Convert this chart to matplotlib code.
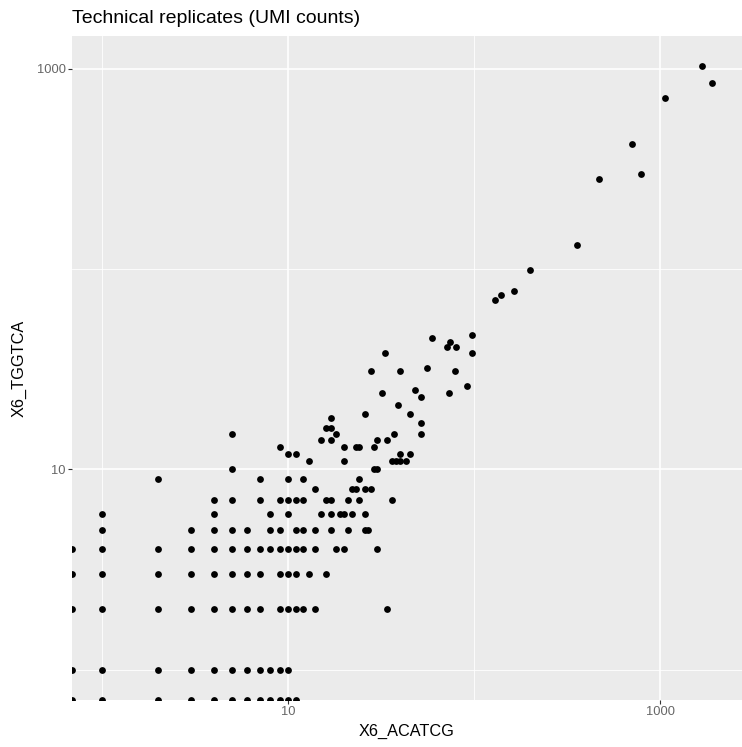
import numpy as np
import matplotlib
matplotlib.use("Agg")
import matplotlib.pyplot as plt
from matplotlib.ticker import FixedLocator, NullFormatter

plt.rcParams['font.family'] = ['Liberation Sans', 'DejaVu Sans']

# UMI counts per gene, two technical replicates (0 = not detected)
acatcg = [0, 1, 2, 3, 4, 5, 6, 7, 8, 9, 10, 11,
          0, 1, 2, 3, 4, 5, 6, 7, 8, 9, 10,
          0, 1, 2, 3, 4, 5, 6, 7, 9, 10, 11, 12, 14, 34,
          0, 1, 2, 3, 4, 5, 6, 7, 9, 10, 11, 13, 16,
          0, 1, 2, 3, 4, 5, 6, 7, 8, 9, 10, 11, 12, 14, 18, 20, 30,
          1, 3, 4, 5, 6, 8, 9, 11, 12, 14, 17, 21, 26, 27,
          1, 4, 8, 10, 15, 17, 19, 20, 22, 26,
          4, 5, 7, 9, 10, 11, 12, 16, 17, 21, 24, 36,
          14, 22, 23, 26, 28,
          2, 7, 10, 12, 24,
          5, 29, 30,
          13, 20, 36, 38, 40, 43,
          10, 11, 40, 45,
          9, 20, 23, 24, 29,
          15, 17, 30, 34,
          5, 18, 37, 52,
          16, 17,
          52, 17, 26, 45, 39, 52, 32, 73, 48, 91,
          28, 40, 79, 56, 33, 97, 71, 80, 74, 59, 97,
          130, 140, 164, 199, 357, 471, 791, 708, 1068, 1893, 1673]

tggtca = [0] * 12 + [1] * 11 + [2] * 14 + [3] * 13 + [4] * 17 + [5] * 14 + \
         [6] * 10 + [7] * 12 + [8] * 5 + [9] * 5 + [10] * 3 + [11] * 6 + \
         [12] * 4 + [13] * 5 + [14] * 4 + [15] * 4 + [16] * 2 + \
         [17, 18, 19, 19, 21, 23, 24, 24, 25, 26,
          31, 31, 31, 32, 38, 38, 41, 41, 43, 45, 47,
          70, 74, 78, 99, 132, 282, 297, 421, 716, 845, 1027]

title = "Technical replicates (UMI counts)"
xlab = "X6_ACATCG"
ylab = "X6_TGGTCA"
major_ticks = [10, 1000]
minor_ticks = [1, 100]

x = np.array(acatcg, dtype=float)
y = np.array(tggtca, dtype=float)

def log_limits(v):
    lo = np.log10(v[v > 0].min())
    hi = np.log10(v.max())
    pad = 0.05 * (hi - lo)
    return 10 ** (lo - pad), 10 ** (hi + pad)

xlim = log_limits(x)
ylim = log_limits(y)

# zeros go to the panel edge, like -Inf in ggplot
xp = np.where(x > 0, x, xlim[0])
yp = np.where(y > 0, y, ylim[0])

fig = plt.figure(figsize=(7.42, 7.47), dpi=100)
ax = fig.add_axes([72 / 742, 1 - 700 / 747, 670 / 742, 664 / 747])
ax.set_facecolor("#EBEBEB")
ax.set_xscale("log")
ax.set_yscale("log")
ax.set_xlim(xlim)
ax.set_ylim(ylim)

ax.scatter(xp, yp, s=24, c="black", linewidths=0, zorder=3)

for a in (ax.xaxis, ax.yaxis):
    a.set_major_locator(FixedLocator(major_ticks))
    a.set_minor_locator(FixedLocator(minor_ticks))
    a.set_minor_formatter(NullFormatter())
ax.set_xticklabels([str(t) for t in major_ticks])
ax.set_yticklabels([str(t) for t in major_ticks])

ax.grid(which="major", color="white", linewidth=1.2, zorder=0)
ax.grid(which="minor", color="white", linewidth=0.6, zorder=0)
ax.set_axisbelow(True)
for s in ax.spines.values():
    s.set_visible(False)

ax.tick_params(which="major", length=2.6, width=0.8, color="#333333",
               labelsize=9.3, labelcolor="#666666", pad=2)
ax.tick_params(which="minor", length=0)

ax.set_xlabel(xlab, fontsize=11.7, labelpad=4)
ax.set_ylabel(ylab, fontsize=11.7, labelpad=7)
ax.set_title(title, loc="left", fontsize=14, pad=9.5)

fig.savefig("out.png", dpi=100)
